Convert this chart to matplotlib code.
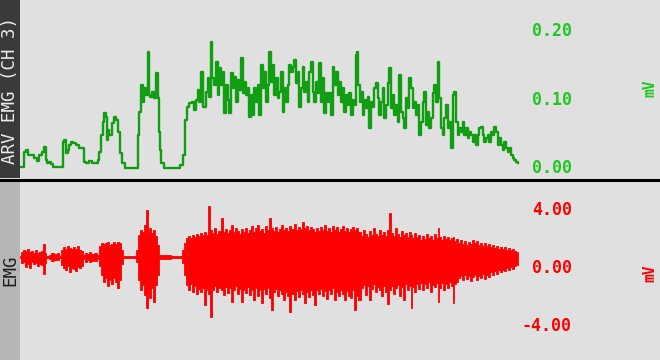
import matplotlib

matplotlib.use("Agg")
import matplotlib.pyplot as plt
from matplotlib.lines import Line2D
from matplotlib.patches import Rectangle

# ARV EMG (CH 3) trace: time (samples) and value (mV)
arv_t = [0, 3, 5, 7, 8, 13, 15, 18, 20, 23, 25, 26, 28, 30, 32, 33, 42, 43, 45, 47, 48, 50, 52, 53, 58, 60,
         63, 64, 67, 70, 73, 77, 78, 80, 82, 83, 85, 86, 87, 88, 90, 93, 95, 97, 99, 101, 103, 107, 117, 118,
         120, 122, 123, 125,
         127, 128, 129, 131, 133, 135, 137, 138, 139, 140, 142, 145, 158, 162, 164, 166, 168, 170, 173, 175,
         177, 178, 180, 182, 184, 187, 188, 190, 191, 193, 195, 197, 198, 200, 202, 203, 205, 207, 208, 210,
         212, 213, 215, 217, 218, 220, 222, 223, 225, 227, 228, 230, 232, 233, 235, 237, 238, 240, 242, 243,
         245, 247, 248, 250,
         252, 253, 255, 257, 258, 260, 262, 263, 265, 267, 268, 270, 272, 273, 275, 277, 278, 280, 282, 283,
         285, 287, 288, 290, 292, 293, 295, 297, 298, 300, 302, 303, 305, 307, 308, 310, 312, 313, 315, 317,
         318, 320, 322, 323, 325, 327, 328, 330, 332, 333, 335, 336, 337, 339, 340, 342, 343, 345, 347, 348,
         350, 352, 353, 355, 357, 358, 360, 362, 363, 365, 367, 368, 370, 372, 373, 375,
         377, 378, 380, 382, 383, 385, 387, 388, 390, 392, 393, 395, 397, 398, 400, 402, 403, 405, 407, 408,
         410, 412, 413, 415, 417, 418, 420, 422, 423, 425, 427, 428, 430, 432, 433, 435, 437, 438, 440, 442,
         443, 445, 447, 448, 450, 452, 453, 455, 457, 458, 460, 462, 463, 465, 467, 468, 470, 472, 473, 475,
         477, 478, 480, 482, 483, 485, 487, 488, 490, 492, 493, 495, 497, 498]
arv_mv = [0.001, 0.001, 0.023, 0.026, 0.019, 0.019, 0.015, 0.010, 0.019, 0.023, 0.031, 0.012, 0.007, 0.009,
          0.006, 0.001, 0.001, 0.038, 0.041, 0.022, 0.026, 0.034, 0.038, 0.037, 0.034, 0.029, 0.029, 0.009,
          0.007, 0.010, 0.007, 0.007, 0.012, 0.023, 0.048, 0.067, 0.080, 0.074, 0.041, 0.055, 0.048, 0.066,
          0.074, 0.070, 0.053, 0.022, 0.007, 0.000, 0.000, 0.048, 0.082, 0.121, 0.096, 0.117,
          0.107, 0.169, 0.107, 0.104, 0.111, 0.102, 0.139, 0.102, 0.053, 0.026, 0.007, 0.000, 0.000, 0.004,
          0.019, 0.070, 0.089, 0.095, 0.096, 0.085, 0.099, 0.114, 0.096, 0.140, 0.089, 0.111, 0.131, 0.104,
          0.184, 0.131, 0.121, 0.155, 0.107, 0.146, 0.121, 0.140, 0.080, 0.121, 0.099, 0.080, 0.139, 0.117,
          0.133, 0.096, 0.128, 0.114, 0.161, 0.110, 0.126, 0.107, 0.117, 0.074, 0.107, 0.077, 0.117, 0.096,
          0.121, 0.077, 0.150, 0.117, 0.140, 0.096, 0.121, 0.169,
          0.126, 0.150, 0.107, 0.131, 0.102, 0.111, 0.140, 0.082, 0.117, 0.096, 0.121, 0.150, 0.140, 0.147,
          0.158, 0.124, 0.140, 0.089, 0.117, 0.147, 0.111, 0.126, 0.096, 0.140, 0.155, 0.111, 0.096, 0.126,
          0.110, 0.153, 0.096, 0.131, 0.080, 0.110, 0.096, 0.110, 0.077, 0.147, 0.121, 0.140, 0.107, 0.126,
          0.096, 0.117, 0.082, 0.107, 0.092, 0.110, 0.077, 0.099, 0.092, 0.165, 0.169, 0.121, 0.096, 0.111,
          0.077, 0.099, 0.088, 0.104, 0.058, 0.096, 0.089, 0.117, 0.124, 0.102, 0.077, 0.096, 0.117, 0.073,
          0.092, 0.124, 0.146, 0.088, 0.107, 0.077,
          0.092, 0.067, 0.136, 0.082, 0.073, 0.058, 0.102, 0.088, 0.131, 0.117, 0.088, 0.096, 0.077, 0.092,
          0.048, 0.067, 0.096, 0.111, 0.063, 0.082, 0.058, 0.073, 0.110, 0.121, 0.096, 0.155, 0.102, 0.058,
          0.048, 0.073, 0.092, 0.058, 0.067, 0.029, 0.107, 0.111, 0.067, 0.048, 0.058, 0.053, 0.067, 0.048,
          0.058, 0.044, 0.053, 0.048, 0.038, 0.048, 0.034, 0.048, 0.058, 0.060, 0.048, 0.038, 0.044, 0.048,
          0.038, 0.053, 0.048, 0.060, 0.053, 0.034, 0.044, 0.034, 0.026, 0.038, 0.029, 0.023, 0.029, 0.019,
          0.015, 0.012, 0.009, 0.007]

# raw EMG: upper / lower envelope of the signal (mV), 10 values per line
emg_t = [0, 2, 4, 6, 8, 10, 12, 14, 16, 18,
         20, 22, 24, 25, 27, 30, 32, 35, 38, 40,
         42, 44, 46, 48, 50, 52, 54, 56, 58, 60,
         62, 64, 66, 68, 70, 72, 75, 78, 80, 82,
         84, 86, 88, 90, 92, 94, 96, 98, 100, 102,
         104, 115, 117, 119, 121, 123, 125, 127, 128, 130,
         132, 134, 136, 138, 140, 161, 163, 165, 167, 169,
         171, 173, 175, 177, 179, 181, 183, 185, 187, 189,
         191, 193, 195, 197, 199, 202, 204, 206, 208, 210,
         212, 214, 216, 218, 220, 222, 224, 226, 228, 230,
         232, 234, 236, 238, 240, 242, 244, 246, 248, 250,
         252, 254, 256, 258, 260, 262, 264, 266, 268, 270,
         272, 275, 277, 279, 281, 283, 285, 287, 289, 291,
         293, 295, 297, 299, 301, 303, 305, 307, 309, 311,
         313, 315, 317, 319, 321, 323, 325, 327, 329, 331,
         333, 335, 337, 339, 342, 344, 346, 348, 350, 352,
         354, 356, 358, 360, 362, 364, 366, 368, 370, 372,
         374, 376, 378, 380, 382, 384, 386, 388, 390, 391,
         393, 395, 397, 399, 401, 403, 405, 407, 409, 411,
         413, 415, 417, 418, 420, 422, 424, 426, 428, 430,
         432, 433, 435, 437, 439, 441, 443, 445, 447, 449,
         451, 453, 455, 457, 459, 461, 463, 465, 467, 469,
         471, 473, 475, 477, 479, 481, 483, 485, 487, 489,
         491, 493, 495, 497, 498]
emg_hi = [0.07, 0.35, 0.49, 0.42, 0.56, 0.35, 0.42, 0.28, 0.49, 0.28,
          0.35, 0.42, 0.90, 0.28, 0.07, 0.14, 0.28, 0.21, 0.28, 0.07,
          0.49, 0.69, 0.56, 0.76, 0.63, 0.56, 0.69, 0.56, 0.76, 0.49,
          0.42, 0.14, 0.28, 0.21, 0.35, 0.21, 0.28, 0.14, 0.76, 0.97,
          0.90, 0.97, 1.04, 0.83, 0.90, 1.04, 0.90, 1.04, 0.97, 0.49,
          0.07, 0.07, 0.49, 1.53, 1.88, 1.74, 2.22, 3.26, 1.74, 2.01,
          1.67, 1.88, 1.46, 0.83, 0.14, 0.07, 0.49, 0.97, 1.32, 1.46,
          1.32, 1.53, 1.39, 1.60, 1.46, 1.67, 1.53, 1.74, 1.53, 3.54,
          1.88, 1.67, 2.01, 1.60, 1.81, 2.71, 1.74, 1.94, 1.67, 1.88,
          2.22, 1.74, 2.01, 1.81, 1.60, 1.94, 1.74, 2.01, 1.67, 1.88,
          2.15, 1.74, 2.01, 2.22, 1.81, 1.94, 1.67, 2.15, 1.88, 2.71,
          2.01, 1.81, 2.08, 1.74, 1.94, 2.22, 1.88, 2.01, 1.81, 2.15,
          1.94, 2.29, 1.88, 2.08, 1.94, 2.43, 2.01, 2.15, 1.88, 2.08,
          1.94, 1.74, 2.01, 1.81, 2.08, 1.88, 2.22, 1.81, 2.01, 1.74,
          2.15, 1.88, 2.08, 1.74, 1.94, 2.15, 1.81, 2.01, 1.74, 1.94,
          2.08, 1.88, 2.01, 1.74, 1.46, 1.88, 1.60, 1.39, 1.81, 1.53,
          2.01, 1.60, 1.46, 1.88, 1.53, 1.74, 1.46, 1.88, 3.06, 1.67,
          1.46, 2.01, 1.60, 1.39, 1.81, 1.53, 1.67, 1.39, 1.74, 1.53,
          1.32, 1.67, 1.39, 1.53, 1.18, 1.46, 1.25, 1.60, 1.32, 1.46,
          1.18, 1.60, 1.32, 2.01, 1.39, 1.18, 1.46, 1.25, 1.39, 1.18,
          1.32, 1.39, 1.11, 1.25, 0.97, 1.18, 0.90, 1.11, 0.83, 1.04,
          0.90, 1.18, 0.97, 1.11, 0.83, 0.97, 0.76, 0.97, 0.76, 0.90,
          0.69, 0.83, 0.63, 0.76, 0.56, 0.69, 0.56, 0.69, 0.49, 0.63,
          0.49, 0.56, 0.42, 0.35, 0.28]
emg_lo = [-0.07, -0.42, -0.35, -0.69, -0.49, -0.76, -0.35, -0.49, -0.42, -0.63,
          -0.49, -0.56, -1.18, -0.42, -0.07, -0.14, -0.28, -0.21, -0.21, -0.07,
          -0.56, -0.76, -0.90, -0.63, -1.04, -0.76, -0.83, -0.97, -0.69, -0.76,
          -0.63, -0.14, -0.35, -0.21, -0.35, -0.28, -0.28, -0.14, -0.63, -1.25,
          -1.74, -1.46, -2.01, -1.60, -1.88, -1.46, -1.74, -2.15, -1.60, -0.49,
          -0.07, -0.07, -0.35, -1.60, -2.29, -1.94, -2.64, -3.54, -2.29, -2.85,
          -2.15, -3.13, -1.94, -1.25, -0.14, -0.07, -0.42, -1.25, -1.94, -2.29,
          -1.88, -2.43, -2.01, -2.57, -2.22, -2.43, -2.15, -3.33, -2.29, -2.57,
          -4.17, -2.29, -2.01, -2.43, -2.15, -2.29, -2.64, -2.08, -2.50, -2.15,
          -3.13, -2.29, -2.01, -2.57, -2.22, -3.13, -2.29, -2.50, -2.08, -2.64,
          -2.29, -2.99, -2.15, -2.71, -2.29, -3.19, -2.22, -2.57, -2.15, -2.85,
          -3.68, -2.43, -2.22, -2.71, -2.29, -2.57, -2.99, -2.43, -2.71, -3.82,
          -2.57, -2.99, -2.36, -2.78, -2.29, -2.57, -3.19, -2.43, -2.78, -2.29,
          -2.64, -3.33, -2.29, -2.57, -2.22, -2.71, -2.36, -2.92, -2.29, -2.57,
          -2.15, -2.99, -2.43, -2.71, -2.29, -2.57, -2.99, -2.36, -2.71, -2.85,
          -2.29, -3.68, -2.71, -2.99, -2.15, -1.94, -2.64, -2.01, -2.99, -2.22,
          -1.88, -2.43, -2.08, -2.29, -2.71, -2.01, -2.43, -3.26, -2.29, -2.01,
          -2.57, -2.15, -1.94, -2.71, -2.08, -2.99, -1.88, -2.29, -2.01, -3.54,
          -2.08, -2.43, -1.88, -2.22, -1.81, -2.29, -1.88, -2.15, -1.74, -2.43,
          -1.94, -2.08, -1.81, -3.13, -2.15, -1.81, -2.29, -1.88, -2.15, -1.74,
          -2.01, -3.19, -1.88, -1.74, -1.46, -1.32, -1.60, -1.25, -1.53, -1.32,
          -1.67, -1.39, -1.25, -1.60, -1.32, -1.46, -1.18, -1.53, -1.25, -1.39,
          -1.04, -1.25, -0.97, -1.18, -0.90, -1.04, -0.90, -0.97, -0.76, -0.90,
          -0.69, -0.83, -0.63, -0.56, -0.49]

arv_ticks = [0.0, 0.1, 0.2]
arv_labels = ["0.00", "0.10", "0.20"]
emg_ticks = [4.0, 0.0, -4.0]
emg_labels = ["4.00", "0.00", "-4.00"]

BG = "#e0e0e0"
GREEN_LINE = "#129e12"
GREEN_TXT = "#1ec81e"
RED = "#ff0000"
MONO = "DejaVu Sans Mono"
W, H = 660, 360


def rect(x0, y0, x1, y1):
    # pixel box -> figure fraction
    return [x0 / W, 1 - y1 / H, (x1 - x0) / W, (y1 - y0) / H]


fig = plt.figure(figsize=(6.6, 3.6), dpi=100, facecolor=BG)

ax_top = fig.add_axes(rect(20, 0, 520, 178))
ax_bot = fig.add_axes(rect(20, 181, 520, 360))

ax_top.plot(arv_t, arv_mv, color=GREEN_LINE, lw=1.7, drawstyle="steps-mid")
ax_top.set_xlim(0, 500)
ax_top.set_ylim(-0.0146, 0.2453)

ax_bot.fill_between(emg_t, emg_lo, emg_hi, step="mid", facecolor=RED, edgecolor=RED, lw=0.6)
ax_bot.set_xlim(0, 500)
ax_bot.set_ylim(-7.15, 5.28)

for ax in (ax_top, ax_bot):
    ax.set_axis_off()

for v, s in zip(arv_ticks, arv_labels):
    ax_top.annotate(s, xy=(1, v), xycoords=("axes fraction", "data"), xytext=(52, 0),
                    textcoords="offset pixels", ha="right", va="center",
                    color=GREEN_TXT, family=MONO, fontsize=12, fontweight="bold")
for v, s in zip(emg_ticks, emg_labels):
    ax_bot.annotate(s, xy=(1, v), xycoords=("axes fraction", "data"), xytext=(52, -11),
                    textcoords="offset pixels", ha="right", va="center",
                    color=RED, family=MONO, fontsize=12, fontweight="bold")

# channel name strips on the left
fig.add_artist(Rectangle((0, 1 - 178 / H), 20 / W, 178 / H, transform=fig.transFigure,
                         facecolor="#3a3a3a", edgecolor="none"))
fig.add_artist(Rectangle((0, 0), 20 / W, 179 / H, transform=fig.transFigure,
                         facecolor="#b6b6b6", edgecolor="none"))
fig.text(10 / W, 1 - 90 / H, "ARV EMG (CH 3)", rotation=90, ha="center", va="center",
         color="#ececec", family=MONO, fontsize=12.5)
fig.text(10 / W, 1 - 270 / H, "EMG", rotation=90, ha="center", va="center",
         color="#1e1e1e", family=MONO, fontsize=12.5)

# units
fig.text(650 / W, 1 - 88 / H, "mV", rotation=90, ha="center", va="center",
         color=GREEN_TXT, family=MONO, fontsize=10.5, fontweight="bold")
fig.text(650 / W, 1 - 273 / H, "mV", rotation=90, ha="center", va="center",
         color=RED, family=MONO, fontsize=10.5, fontweight="bold")

# separator between the two channels
fig.add_artist(Line2D([0, 1], [1 - 179.5 / H] * 2, transform=fig.transFigure,
                      color="black", lw=2.2))

fig.savefig("out.png", dpi=100, facecolor=BG)
